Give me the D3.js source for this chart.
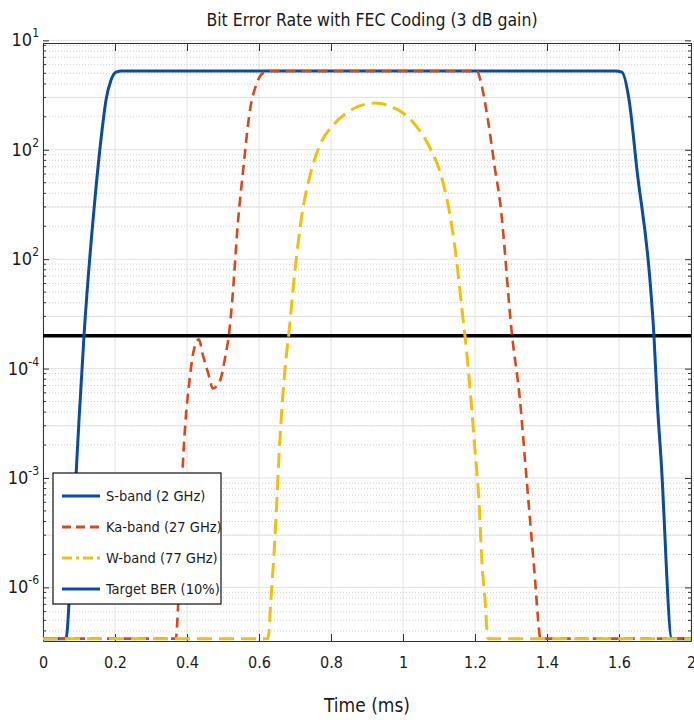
<!DOCTYPE html>
<html>
<head>
<meta charset="utf-8">
<script src="https://cdn.jsdelivr.net/npm/d3@7"></script>
<style>
  body { margin: 0; background: #fff; }
  text { font-family: "Liberation Sans Narrow", "DejaVu Sans Condensed", "Roboto", sans-serif; fill: #1a1a1a; }
</style>
</head>
<body>
<div id="vis_container"></div>
<script>
// time in ms, BER values
var s_time = [0, 0.064, 0.075, 0.092, 0.1, 0.114, 0.144, 0.164, 0.175, 0.189, 0.203, 0.219,
              1.589, 1.608, 1.628, 1.65, 1.686, 1.697, 1.706, 1.717, 1.747, 1.8];
var s_ber  = [3.4e-6, 3.4e-6, 1.04e-5, 1.1e-4, 3.37e-4, 2.02e-3, 0.0347, 0.151, 0.285, 0.434, 0.513, 0.525,
              0.525, 0.513, 0.285, 0.0652, 6.43e-3, 2.02e-3, 5.13e-4, 1.45e-4, 3.4e-6, 3.4e-6];

var ka_time = [0, 0.369, 0.375, 0.389, 0.394, 0.408, 0.417, 0.433, 0.444, 0.458, 0.472, 0.492, 0.506,
               0.517, 0.525, 0.542, 0.556, 0.575, 0.592, 0.611, 0.631, 1.206, 1.214, 1.236, 1.256,
               1.269, 1.303, 1.325, 1.339, 1.353, 1.367, 1.378, 1.381, 1.8];
var ka_ber  = [3.4e-6, 3.4e-6, 6.5e-6, 1.45e-4, 2.72e-4, 8.3e-4, 1.38e-3, 1.85e-3, 1.33e-3, 9.3e-4, 6.6e-4, 7.8e-4, 1.27e-3,
               2.11e-3, 3.95e-3, 0.0228, 0.0652, 0.231, 0.391, 0.503, 0.525, 0.525, 0.444, 0.187, 0.0652,
               0.0347, 2.0e-3, 5.13e-4, 1.45e-4, 4.1e-5, 1.16e-5, 4.04e-6, 3.4e-6, 3.4e-6];

var w_time = [0, 0.625, 0.633, 0.644, 0.658, 0.672, 0.683, 0.7, 0.719, 0.742, 0.769, 0.806, 0.847, 0.886,
              0.922, 0.964, 1.0, 1.039, 1.075, 1.103, 1.128, 1.147, 1.164, 1.175, 1.189, 1.2, 1.211,
              1.219, 1.228, 1.236, 1.8];
var w_ber  = [3.4e-6, 3.4e-6, 7.6e-6, 2.7e-5, 2.21e-4, 9.7e-4, 2.1e-3, 7.9e-3, 0.0252, 0.0586, 0.110, 0.168, 0.221, 0.256,
              0.267, 0.251, 0.217, 0.161, 0.104, 0.0625, 0.0281, 0.0109, 3.42e-3, 1.63e-3, 5.13e-4, 1.79e-4, 6.2e-5,
              1.76e-5, 7.6e-6, 3.4e-6, 3.4e-6];

var target_ber = 2.0e-3;

var series_names = ["S-band (2 GHz)", "Ka-band (27 GHz)", "W-band (77 GHz)", "Target BER (10%)"];

var x_ticks = [0, 0.2, 0.4, 0.6, 0.8, 1.0, 1.2, 1.4, 1.6, 1.8];
var x_tick_labels = ["0", "0.2", "0.4", "0.6", "0.8", "1", "1.2", "1.4", "1.6", "2"];
var y_ticks = [1, 0.1, 0.01, 1e-3, 1e-4, 1e-5];
var y_tick_exps = ["1", "2", "2", "-4", "-3", "-6"];

var width = 694, height = 720;
var pLeft = 43, pRight = 691, pTop = 43, pBottom = 641;

var blue = "#0b4d9c", orange = "#d6491b", yellow = "#f0c010";

var x = d3.scaleLinear().domain([0, 1.8]).range([pLeft, pRight]);
var y = d3.scaleLog().domain([Math.pow(10, -5.49), Math.pow(10, -0.024)]).range([pBottom, pTop]);

var svg = d3.select("#vis_container").append("svg")
    .attr("width", width)
    .attr("height", height);

// minor log values
var minor = [];
for (var e = -6; e <= 0; e++) {
    for (var m = 2; m <= 9; m++) {
        var v = m * Math.pow(10, e - 1);
        if (v > y.domain()[0] && v < y.domain()[1]) minor.push(v);
    }
}
var threes = minor.filter(function(d) {
    var k = d / Math.pow(10, Math.floor(Math.log10(d) + 1e-9));
    return Math.abs(k - 3) < 1e-6;
});

// grid
var grid = svg.append("g");
grid.selectAll(".ymin").data(minor).enter().append("line")
    .attr("x1", pLeft).attr("x2", pRight)
    .attr("y1", function(d) { return y(d); }).attr("y2", function(d) { return y(d); })
    .style("stroke", "#d0d0d0").style("stroke-width", 1).style("stroke-dasharray", "1,2");
grid.selectAll(".ymaj").data(y_ticks.concat(threes)).enter().append("line")
    .attr("x1", pLeft).attr("x2", pRight)
    .attr("y1", function(d) { return y(d); }).attr("y2", function(d) { return y(d); })
    .style("stroke", "#e2e2e2").style("stroke-width", 1);
grid.selectAll(".xg").data(x_ticks).enter().append("line")
    .attr("x1", function(d) { return x(d); }).attr("x2", function(d) { return x(d); })
    .attr("y1", pTop).attr("y2", pBottom)
    .style("stroke", "#e2e2e2").style("stroke-width", 1);

// axes
var fmtX = function(d, i) { return x_tick_labels[i]; };
svg.append("g")
    .attr("transform", "translate(0," + pBottom + ")")
    .call(d3.axisBottom(x).tickValues(x_ticks).tickFormat(fmtX).tickSizeInner(-7).tickSizeOuter(0).tickPadding(16))
    .call(function(g) { g.selectAll("text").style("font-size", "16px"); });
svg.append("g")
    .attr("transform", "translate(0," + pTop + ")")
    .call(d3.axisTop(x).tickValues(x_ticks).tickFormat("").tickSizeInner(-8).tickSizeOuter(0));

var yAxis = svg.append("g")
    .attr("transform", "translate(" + pLeft + ",0)")
    .call(d3.axisLeft(y).tickValues(y_ticks).tickFormat("").tickSizeInner(-6).tickSizeOuter(0));
yAxis.selectAll(".minor").data(minor).enter().append("line")
    .attr("x1", 0).attr("x2", 3)
    .attr("y1", function(d) { return y(d); }).attr("y2", function(d) { return y(d); })
    .style("stroke", "#333");
var yRight = svg.append("g")
    .attr("transform", "translate(" + pRight + ",0)")
    .call(d3.axisRight(y).tickValues(y_ticks).tickFormat("").tickSizeInner(-6).tickSizeOuter(0));
yRight.selectAll(".minor").data(minor).enter().append("line")
    .attr("x1", 0).attr("x2", -3)
    .attr("y1", function(d) { return y(d); }).attr("y2", function(d) { return y(d); })
    .style("stroke", "#333");

svg.selectAll(".domain").style("stroke", "#333");
svg.selectAll(".tick line").style("stroke", "#333");

// y tick labels with superscripts
y_ticks.forEach(function(d, i) {
    var t = svg.append("text")
        .attr("x", 39)
        .attr("y", y(d) + 6)
        .style("text-anchor", "end")
        .style("font-size", "18px");
    t.append("tspan").text("10");
    t.append("tspan").attr("dy", -9).style("font-size", "12px").text(y_tick_exps[i]);
});

// lines
var line = d3.line()
    .curve(d3.curveMonotoneX)
    .x(function(d) { return x(d[0]); })
    .y(function(d) { return y(d[1]); });

var plot = svg.append("g");

plot.append("line")
    .attr("x1", pLeft).attr("x2", pRight)
    .attr("y1", y(target_ber)).attr("y2", y(target_ber))
    .style("stroke", "#000").style("stroke-width", 3.5);

plot.append("path")
    .datum(s_time.map(function(t, i) { return [t, s_ber[i]]; }))
    .attr("d", line)
    .style("fill", "none").style("stroke", blue).style("stroke-width", 3)
    .style("stroke-linejoin", "round");

plot.append("path")
    .datum(ka_time.map(function(t, i) { return [t, ka_ber[i]]; }))
    .attr("d", line)
    .style("fill", "none").style("stroke", orange).style("stroke-width", 2.6)
    .style("stroke-dasharray", "10,6");

plot.append("path")
    .datum(w_time.map(function(t, i) { return [t, w_ber[i]]; }))
    .attr("d", line)
    .style("fill", "none").style("stroke", yellow).style("stroke-width", 3)
    .style("stroke-dasharray", "15,7");

// legend
var leg = svg.append("g");
leg.append("rect")
    .attr("x", 53).attr("y", 473).attr("width", 168).attr("height", 131)
    .style("fill", "#fff").style("stroke", "#111").style("stroke-width", 1.2);

var leg_colors = [blue, orange, yellow, blue];
var leg_dash = [null, "9,5", "10,4,3,4", null];
series_names.forEach(function(name, i) {
    var yy = 496 + i * 31;
    leg.append("line")
        .attr("x1", 62).attr("x2", 100).attr("y1", yy).attr("y2", yy)
        .style("stroke", leg_colors[i]).style("stroke-width", 3)
        .style("stroke-dasharray", leg_dash[i]);
    leg.append("text")
        .attr("x", 106).attr("y", yy + 5)
        .style("font-size", "14.5px")
        .text(name);
});

// title and label
svg.append("text")
    .attr("x", 372).attr("y", 26)
    .style("text-anchor", "middle")
    .style("font-size", "17.5px")
    .text("Bit Error Rate with FEC Coding (3 dB gain)");

svg.append("text")
    .attr("x", 367).attr("y", 712)
    .style("text-anchor", "middle")
    .style("font-size", "19px")
    .text("Time (ms)");
</script>
</body>
</html>
